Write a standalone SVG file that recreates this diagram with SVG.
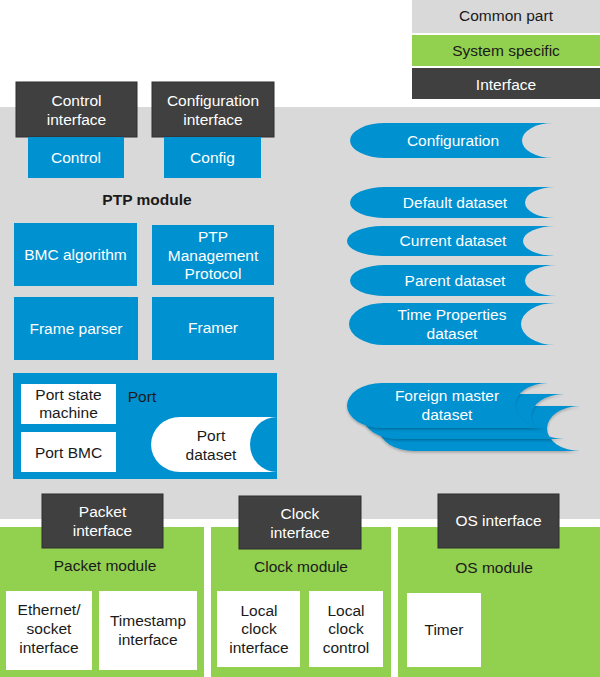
<svg xmlns="http://www.w3.org/2000/svg" width="600" height="677" viewBox="0 0 600 677">
<defs>
<style>
text{font-family:"Liberation Sans",Arial,sans-serif;font-size:15.5px;text-anchor:middle}
.w{fill:#ffffff}
.k{fill:#1a1a1a}
.b{font-weight:bold}
.gray{fill:#d9d9d9}
.green{fill:#92d050}
.dark{fill:#404040;stroke:#2e2e2e;stroke-width:1}
.blue{fill:#0091d0}
.white{fill:#ffffff}
.ds{fill:#0091d0}
</style>
<filter id="sh" x="-5%" y="-20%" width="115%" height="150%">
<feDropShadow dx="0" dy="1.5" stdDeviation="1.2" flood-color="#000" flood-opacity="0.25"/>
</filter>
</defs>
<rect width="600" height="677" fill="#ffffff"/>
<g id="legend">
<rect class="gray" x="412" y="0" width="188" height="33"/>
<text class="k" x="506" y="21">Common part</text>
<rect class="green" x="412" y="35" width="188" height="31"/>
<text class="k" x="506" y="56">System specific</text>
<rect fill="#404040" x="412" y="68" width="188" height="31"/>
<text class="w" x="506" y="90">Interface</text>
</g>
<g id="ptp-module">
<rect class="gray" x="0" y="107" width="600" height="412"/>
<text class="k b" x="147" y="205">PTP module</text>
</g>
<g id="control-interface">
<rect class="dark" x="16" y="82" width="121" height="55"/>
<text class="w" x="76.5" y="106">Control</text>
<text class="w" x="76.5" y="125">interface</text>
</g>
<g id="config-interface">
<rect class="dark" x="152" y="82" width="122" height="55"/>
<text class="w" x="213" y="106">Configuration</text>
<text class="w" x="213" y="125">interface</text>
</g>
<g id="control">
<rect class="blue" x="28" y="137" width="96" height="41"/>
<text class="w" x="76" y="163">Control</text>
</g>
<g id="config">
<rect class="blue" x="164" y="137" width="97" height="41"/>
<text class="w" x="212.5" y="163">Config</text>
</g>
<g id="bmc">
<rect class="blue" x="14" y="223" width="123" height="63"/>
<text class="w" x="75.5" y="260">BMC algorithm</text>
</g>
<g id="ptp-mgmt">
<rect class="blue" x="152" y="225" width="122" height="60"/>
<text class="w" x="213" y="242">PTP</text>
<text class="w" x="213" y="261">Management</text>
<text class="w" x="213" y="279">Protocol</text>
</g>
<g id="frame-parser">
<rect class="blue" x="14" y="297" width="124" height="63"/>
<text class="w" x="76" y="334">Frame parser</text>
</g>
<g id="framer">
<rect class="blue" x="152" y="297" width="122" height="63"/>
<text class="w" x="213" y="333">Framer</text>
</g>
<g id="port">
<rect class="blue" x="13" y="373" width="264" height="106"/>
<text class="k" x="142" y="402">Port</text>
<rect class="white" x="21" y="384" width="95" height="40"/>
<text class="k" x="68.5" y="400">Port state</text>
<text class="k" x="68.5" y="418">machine</text>
<rect class="white" x="21" y="432" width="95" height="40"/>
<text class="k" x="68.5" y="458">Port BMC</text>
</g>
<g id="port-dataset">
<path class="white" d="M180 417 L277 417 A27 27.5 0 0 0 277 472 L180 472 A29 27.5 0 0 1 180 417 Z"/>
<text class="k" x="211" y="441">Port</text>
<text class="k" x="211" y="460">dataset</text>
</g>
<g id="configuration">
<path class="ds" d="M385 123 L553 123 A31 17.5 0 0 0 553 158 L385 158 A35 17.5 0 0 1 385 123 Z"/>
<text class="w" x="453" y="146">Configuration</text>
</g>
<g id="default-dataset">
<path class="ds" d="M385 187 L555 187 A30 15.5 0 0 0 555 218 L385 218 A35 15.5 0 0 1 385 187 Z"/>
<text class="w" x="455" y="208">Default dataset</text>
</g>
<g id="current-dataset">
<path class="ds" d="M382 226 L555 226 A32 15 0 0 0 555 256 L382 256 A35 15 0 0 1 382 226 Z"/>
<text class="w" x="453" y="246">Current dataset</text>
</g>
<g id="parent-dataset">
<path class="ds" d="M385 265 L557 265 A32 15.5 0 0 0 557 296 L385 296 A35 15.5 0 0 1 385 265 Z"/>
<text class="w" x="455" y="286">Parent dataset</text>
</g>
<g id="time-properties-dataset">
<path class="ds" d="M384 303 L555 303 A34 21 0 0 0 555 345 L384 345 A35 21 0 0 1 384 303 Z"/>
<text class="w" x="452" y="320">Time Properties</text>
<text class="w" x="452" y="339">dataset</text>
</g>
<g id="foreign-master-dataset">
<path class="ds" filter="url(#sh)" d="M414 406 L580 406 A33 22.5 0 0 0 580 451 L414 451 A35 22.5 0 0 1 414 406 Z"/>
<path class="ds" filter="url(#sh)" d="M398 394 L564 394 A33 22.5 0 0 0 564 439 L398 439 A35 22.5 0 0 1 398 394 Z"/>
<path class="ds" filter="url(#sh)" d="M382 383 L548 383 A33 22.5 0 0 0 548 428 L382 428 A35 22.5 0 0 1 382 383 Z"/>
<text class="w" x="447" y="401">Foreign master</text>
<text class="w" x="447" y="420">dataset</text>
</g>
<g id="packet-module">
<rect class="green" x="0" y="527" width="204" height="150"/>
<text class="k" x="105" y="571">Packet module</text>
<rect class="white" x="6" y="591" width="86" height="79"/>
<text class="k" x="49" y="615">Ethernet/</text>
<text class="k" x="49" y="634">socket</text>
<text class="k" x="49" y="653">interface</text>
<rect class="white" x="99" y="591" width="98" height="79"/>
<text class="k" x="148" y="626">Timestamp</text>
<text class="k" x="148" y="645">interface</text>
</g>
<g id="packet-interface">
<rect class="dark" x="42" y="494" width="121" height="54"/>
<text class="w" x="102.5" y="517">Packet</text>
<text class="w" x="102.5" y="536">interface</text>
</g>
<g id="clock-module">
<rect class="green" x="211" y="527" width="180" height="150"/>
<text class="k" x="301" y="572">Clock module</text>
<rect class="white" x="217" y="591" width="83" height="76"/>
<text class="k" x="259" y="616">Local</text>
<text class="k" x="259" y="634">clock</text>
<text class="k" x="259" y="653">interface</text>
<rect class="white" x="309" y="591" width="74" height="76"/>
<text class="k" x="346" y="616">Local</text>
<text class="k" x="346" y="634">clock</text>
<text class="k" x="346" y="653">control</text>
</g>
<g id="clock-interface">
<rect class="dark" x="239" y="496" width="122" height="53"/>
<text class="w" x="300" y="519">Clock</text>
<text class="w" x="300" y="538">interface</text>
</g>
<g id="os-module">
<rect class="green" x="398" y="527" width="202" height="150"/>
<text class="k" x="494" y="573">OS module</text>
<rect class="white" x="407" y="593" width="74" height="74"/>
<text class="k" x="444" y="635">Timer</text>
</g>
<g id="os-interface">
<rect class="dark" x="438" y="494" width="121" height="54"/>
<text class="w" x="498.5" y="526">OS interface</text>
</g>
<g id="connectors"></g>
</svg>
